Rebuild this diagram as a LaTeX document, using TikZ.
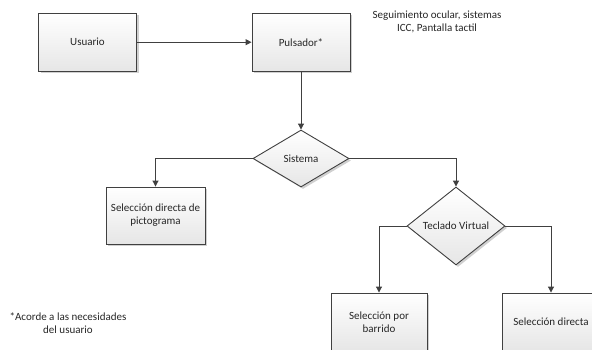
\documentclass[tikz,border=0pt]{standalone}
\usepackage{fontspec}
\setmainfont{Carlito}
\usetikzlibrary{arrows.meta,shapes.geometric,shadows}
\definecolor{ink}{HTML}{262626}
\definecolor{edge}{HTML}{404040}
\definecolor{topC}{HTML}{FFFFFF}
\definecolor{botC}{HTML}{E6E6E6}
\definecolor{shad}{HTML}{D0D0D0}
\tikzset{>={Triangle[length=6pt,width=6pt]},
  blk/.style={draw=edge,line width=0.9pt,top color=topC,bottom color=botC,
    drop shadow={shadow xshift=2pt,shadow yshift=-2pt,fill=shad,opacity=1},
    minimum width=98pt,minimum height=58pt,inner sep=1pt,
    font=\fontsize{11}{13}\selectfont,text=ink,align=center},
  dec/.style={blk,diamond,minimum width=96pt,minimum height=57pt},
  note/.style={font=\fontsize{11}{13}\selectfont,text=ink,align=center},
  link/.style={->,draw=edge,line width=1pt}}
\begin{document}
\begin{tikzpicture}[x=1pt,y=1pt]
\useasboundingbox (0,0) rectangle (592,349);
\clip (0,0) rectangle (592,349);
\node[blk] (usr) at (87.5,306.8) {Usuario};
\node[blk] (pul) at (301,306.8) {Pulsador*};
\node[note] (ojo) at (437,327.5) {Seguimiento ocular, sistemas\\ICC, Pantalla tactil};
\node[dec] (sis) at (301,190.5) {Sistema};
\node[blk,minimum width=99pt,minimum height=57pt] (sel) at (155.5,133.5) {Selección directa de\\pictograma};
\node[dec,minimum width=98pt,minimum height=58pt] (tec) at (456,123) {Teclado Virtual};
\node[blk,minimum width=96pt] (bar) at (379,27) {Selección por\\barrido};
\node[blk] (dir) at (551,27) {Selección directa};
\node[note] (nec) at (68,26) {*Acorde a las necesidades\\del usuario};
\draw[link] (usr) -- (pul);
\draw[link] (pul) -- (sis);
\draw[link] (sis.west) -| (sel);
\draw[link] (sis.east) -| (tec);
\draw[link] (tec.west) -| (bar);
\draw[link] (tec.east) -| (dir);
\end{tikzpicture}
\end{document}
